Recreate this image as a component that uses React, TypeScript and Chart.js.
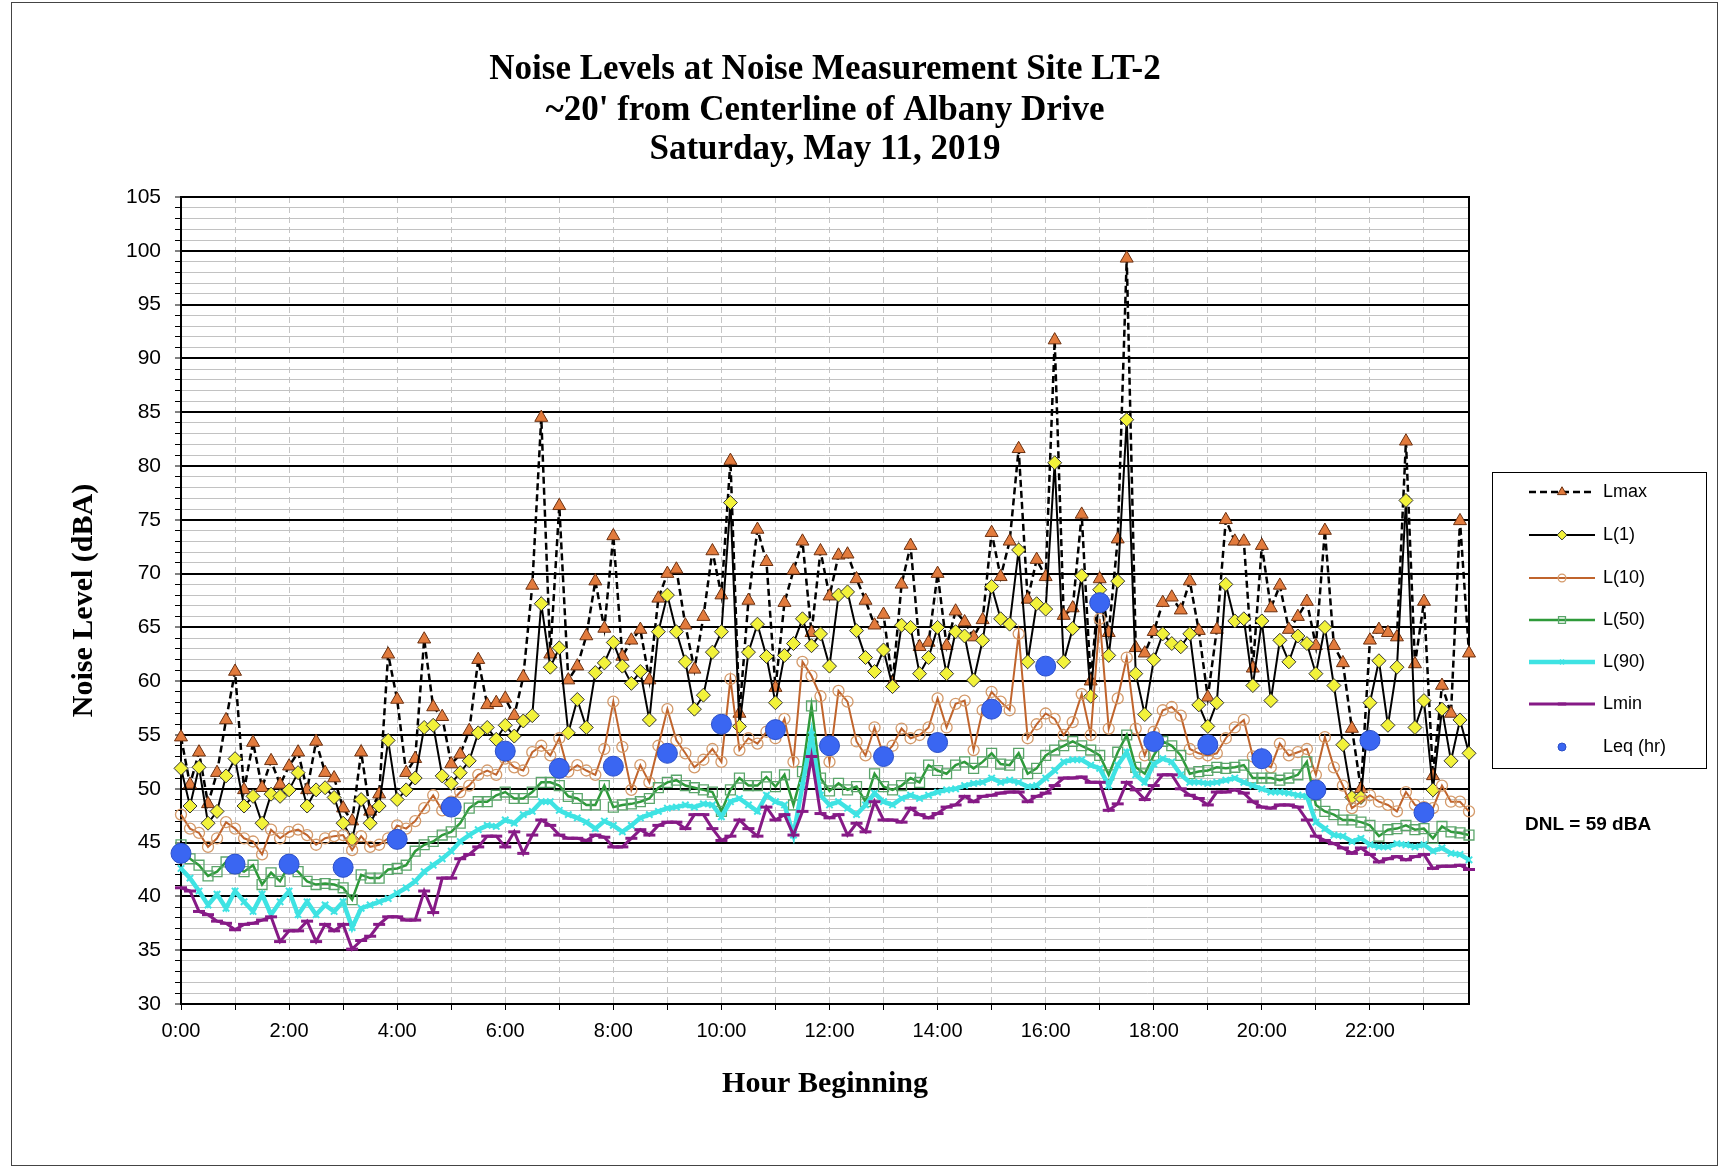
import React, { useEffect, useRef } from 'react';
import { Chart, registerables } from 'chart.js';
import { drawPoint } from 'chart.js/helpers';

Chart.register(...registerables);

const TITLE_LINES = [
  'Noise Levels at Noise Measurement Site LT-2',
  "~20' from Centerline of Albany Drive",
  'Saturday, May 11, 2019',
];
const X_TITLE = 'Hour Beginning';
const Y_TITLE = 'Noise Level (dBA)';
const DNL_TEXT = 'DNL = 59 dBA';

const HOUR_LABELS = ['0','1','2','3','4','5','6','7','8','9','10','11','12','13','14','15','16','17','18','19','20','21','22','23'];
const MINUTE_LABELS = ['00', '10', '20', '30', '40', '50'];
const TIME_LABELS: string[] = [];
HOUR_LABELS.forEach((h) => MINUTE_LABELS.forEach((m) => TIME_LABELS.push(h + ':' + m)));

const Y_MIN = 30;
const Y_MAX = 105;

const LMAX = [
  54.8, 50.4, 53.4, 48.6, 51.5, 56.4, 60.9, 49.9, 54.3, 50.1,
  52.6, 50.4, 52.1, 53.4, 49.9, 54.4, 51.5, 51.0, 48.2, 47.0,
  53.4, 47.9, 49.5, 62.5, 58.3, 51.5, 52.8, 63.9, 57.6, 56.7,
  52.3, 53.2, 55.4, 62.0, 57.8, 58.0, 58.4, 56.8, 60.4, 68.9,
  84.5, 62.5, 76.3, 60.1, 61.4, 64.2, 69.3, 64.9, 73.5, 62.3,
  63.8, 64.8, 60.1, 67.7, 70.0, 70.4, 65.2, 61.1, 66.0, 72.1,
  68.0, 80.5, 57.0, 67.5, 74.1, 71.1, 59.4, 67.3, 70.3, 73.0,
  64.5, 72.1, 67.9, 71.7, 71.8, 69.5, 67.5, 65.2, 66.2, 59.8,
  69.0, 72.6, 63.2, 63.6, 70.0, 63.3, 66.5, 65.5, 64.1, 65.7,
  73.8, 69.7, 73.0, 81.6, 67.6, 71.3, 69.7, 91.7, 66.1, 66.8,
  75.5, 60.0, 69.5, 64.5, 73.2, 99.3, 63.1, 62.6, 64.6, 67.3,
  67.8, 66.6, 69.3, 64.7, 58.5, 64.8, 75.0, 73.0, 73.0, 61.2,
  72.6, 66.8, 68.9, 64.8, 66.0, 67.4, 63.3, 74.0, 63.3, 61.7,
  55.6, 50.0, 63.8, 64.8, 64.5, 64.1, 82.3, 61.6, 67.4, 51.2,
  59.6, 57.0, 74.9, 62.6,
];

const L1 = [
  51.9, 48.4, 52.0, 46.8, 47.9, 51.2, 52.8, 48.4, 49.3, 46.8,
  49.5, 49.3, 49.9, 51.5, 48.4, 49.9, 50.1, 49.2, 46.8, 45.3,
  49.0, 46.8, 48.4, 54.5, 49.0, 49.9, 51.0, 55.7, 55.9, 51.2,
  50.5, 51.5, 52.6, 55.2, 55.7, 54.6, 55.9, 54.9, 56.3, 56.8,
  67.2, 61.3, 63.1, 55.2, 58.3, 55.7, 60.8, 61.7, 63.6, 61.4,
  59.8, 60.9, 56.4, 64.6, 68.0, 64.6, 61.8, 57.4, 58.7, 62.7,
  64.6, 76.6, 55.8, 62.7, 65.3, 62.3, 58.0, 62.4, 63.5, 65.8,
  63.3, 64.4, 61.4, 68.0, 68.3, 64.7, 62.2, 60.9, 62.9, 59.5,
  65.2, 65.0, 60.7, 62.2, 65.0, 60.7, 64.6, 64.2, 60.1, 63.8,
  68.8, 65.8, 65.3, 72.2, 61.8, 67.2, 66.7, 80.3, 61.8, 64.9,
  69.8, 58.6, 68.5, 62.4, 69.3, 84.3, 60.7, 56.9, 62.0, 64.4,
  63.5, 63.2, 64.4, 57.8, 55.8, 58.0, 69.0, 65.6, 65.8, 59.6,
  65.6, 58.2, 63.8, 61.8, 64.2, 63.5, 60.7, 65.0, 59.6, 54.1,
  49.2, 49.2, 58.0, 61.9, 55.9, 61.3, 76.8, 55.7, 58.2, 49.9,
  57.4, 52.6, 56.4, 53.3,
];

const L10 = [
  47.6, 46.3, 45.9, 44.6, 45.4, 46.9, 46.3, 45.4, 45.1, 43.9,
  46.2, 45.4, 46.0, 46.2, 45.7, 44.8, 45.4, 45.6, 45.7, 44.3,
  45.6, 44.6, 44.8, 45.4, 46.6, 46.3, 47.0, 48.2, 49.4, 48.0,
  48.8, 49.7, 50.3, 51.3, 51.7, 51.3, 52.8, 52.0, 51.7, 53.4,
  54.0, 53.1, 54.7, 51.6, 52.2, 51.7, 51.3, 53.7, 58.1, 53.9,
  49.9, 52.2, 50.6, 54.0, 57.4, 54.5, 53.3, 52.0, 52.7, 53.7,
  52.5, 60.2, 53.6, 54.7, 54.2, 55.3, 54.7, 56.5, 52.5, 61.8,
  60.5, 58.6, 52.5, 59.1, 58.1, 54.4, 53.1, 55.7, 53.1, 54.0,
  55.6, 54.7, 55.0, 55.7, 58.4, 55.7, 57.9, 58.2, 53.6, 57.3,
  59.0, 58.1, 57.3, 64.4, 54.7, 56.0, 57.0, 56.5, 55.0, 56.2,
  58.8, 55.0, 65.8, 55.6, 58.4, 62.2, 55.6, 53.1, 55.3, 57.3,
  57.6, 56.8, 53.7, 53.3, 53.1, 53.3, 54.7, 55.7, 56.4, 53.0,
  52.5, 52.0, 54.2, 53.1, 53.4, 53.7, 51.3, 54.8, 52.0, 50.3,
  48.2, 48.8, 49.4, 48.8, 48.5, 47.9, 49.7, 48.5, 48.3, 48.2,
  50.3, 48.8, 48.8, 47.9,
];

const L50 = [
  44.8, 43.5, 42.9, 41.9, 42.3, 43.2, 42.6, 42.3, 42.9, 41.1,
  42.2, 41.4, 42.9, 42.3, 41.4, 41.1, 41.2, 41.1, 40.8, 39.7,
  42.0, 41.7, 41.7, 42.5, 42.6, 42.9, 44.2, 44.8, 45.1, 45.7,
  46.0, 46.8, 48.2, 48.8, 48.8, 49.4, 49.7, 49.1, 49.1, 49.7,
  50.6, 50.6, 50.3, 49.3, 49.1, 48.5, 48.5, 50.3, 48.3, 48.5,
  48.6, 48.8, 49.1, 50.1, 50.6, 50.8, 50.3, 50.1, 49.9, 49.7,
  47.9, 49.9, 51.0, 50.3, 50.3, 51.1, 50.2, 51.3, 48.5, 51.6,
  57.7, 51.0, 49.8, 50.5, 49.9, 50.2, 48.8, 51.4, 50.2, 49.9,
  50.3, 51.0, 50.6, 52.2, 51.7, 51.4, 52.2, 52.5, 51.9, 52.5,
  53.3, 52.3, 52.2, 53.3, 51.4, 51.9, 53.1, 53.6, 54.0, 54.4,
  54.0, 53.6, 53.1, 51.3, 53.4, 55.0, 52.0, 51.4, 53.1, 54.4,
  54.0, 53.1, 51.4, 51.6, 51.7, 52.0, 51.9, 52.0, 52.2, 51.0,
  51.0, 51.0, 50.8, 51.0, 51.3, 52.5, 48.5, 47.9, 47.6, 47.1,
  47.1, 46.9, 46.6, 45.6, 46.2, 46.3, 46.6, 46.2, 46.3, 45.4,
  46.5, 46.0, 45.9, 45.7,
];

const L90 = [
  42.6, 41.7, 40.5, 39.2, 40.2, 38.9, 40.5, 39.5, 38.6, 40.2,
  38.3, 39.5, 40.5, 38.3, 39.5, 38.3, 39.2, 38.6, 39.5, 37.1,
  38.9, 39.2, 39.5, 39.8, 40.3, 40.8, 41.4, 42.3, 42.9, 43.5,
  44.2, 45.1, 45.7, 46.2, 46.6, 46.5, 47.1, 46.8, 47.6, 47.9,
  48.8, 48.8, 48.0, 47.6, 47.3, 46.9, 46.3, 47.0, 46.6, 46.0,
  46.6, 47.3, 47.6, 47.9, 48.2, 48.3, 48.5, 48.3, 48.6, 48.5,
  47.4, 48.8, 49.1, 48.5, 47.9, 49.4, 48.8, 48.5, 45.7, 50.3,
  55.0, 49.4, 48.5, 48.8, 48.2, 47.6, 48.5, 49.6, 48.8, 48.5,
  49.1, 49.4, 49.1, 49.4, 49.7, 49.9, 50.0, 50.3, 50.5, 50.6,
  51.0, 50.6, 50.8, 50.6, 50.2, 50.3, 51.0, 51.7, 52.5, 52.7,
  52.7, 52.2, 51.9, 50.3, 52.2, 53.4, 51.3, 50.6, 52.3, 52.8,
  52.5, 51.3, 50.6, 50.6, 50.5, 50.6, 50.8, 51.0, 50.6, 50.3,
  50.0, 49.7, 49.7, 49.6, 49.4, 49.3, 46.9, 46.3, 45.7, 45.6,
  45.1, 45.4, 44.8, 44.6, 44.6, 44.9, 44.8, 44.6, 44.8, 44.2,
  44.5, 44.0, 43.9, 43.4,
];

const LMIN = [
  40.8, 40.5, 38.6, 38.3, 37.7, 37.5, 36.9, 37.4, 37.5, 37.8,
  38.1, 35.8, 36.8, 36.8, 37.7, 35.8, 37.4, 36.8, 37.4, 35.1,
  35.9, 36.3, 37.4, 38.1, 38.1, 37.8, 37.8, 40.5, 38.5, 41.7,
  41.7, 43.5, 43.9, 44.6, 45.6, 45.6, 44.6, 46.0, 44.0, 45.7,
  47.1, 46.6, 45.7, 45.4, 45.4, 45.2, 45.7, 45.5, 44.6, 44.6,
  45.4, 46.2, 45.7, 46.6, 46.9, 46.9, 46.3, 47.6, 47.6, 46.3,
  45.2, 45.6, 47.1, 46.3, 45.6, 48.3, 47.1, 47.6, 45.7, 47.9,
  53.0, 47.7, 47.3, 47.6, 45.7, 46.8, 46.0, 48.8, 47.1, 47.1,
  46.9, 48.2, 47.6, 47.3, 47.7, 48.3, 48.5, 49.3, 48.8, 49.3,
  49.4, 49.6, 49.7, 49.7, 48.8, 49.3, 49.6, 50.3, 51.0, 51.0,
  51.1, 50.6, 50.6, 48.0, 48.6, 50.6, 49.9, 49.0, 50.3, 51.3,
  51.3, 50.0, 49.4, 49.1, 48.5, 49.7, 49.7, 49.9, 49.6, 48.8,
  48.3, 48.2, 48.5, 48.5, 48.3, 47.1, 45.6, 45.2, 44.9, 44.5,
  44.0, 44.5, 43.9, 43.2, 43.5, 43.7, 43.4, 43.7, 43.9, 42.6,
  42.8, 42.8, 42.9, 42.5,
];

// Hourly Leq, one value per hour beginning 0:00 .. 23:00
const LEQ_HOURLY = [
  44.0, 43.0, 43.0, 42.7, 45.3, 48.3, 53.5, 51.9, 52.1, 53.3, 56.0, 55.5,
  54.0, 53.0, 54.3, 57.4, 61.4, 67.3, 54.4, 54.1, 52.8, 49.9, 54.5, 47.8,
];

const LEGEND_LABELS = ['Lmax', 'L(1)', 'L(10)', 'L(50)', 'L(90)', 'Lmin', 'Leq (hr)'];

const SERIF = '"Liberation Serif", "Times New Roman", serif';
const SANS = '"Liberation Sans", Arial, sans-serif';

export default function App() {
  const canvasRef = useRef<HTMLCanvasElement | null>(null);

  useEffect(() => {
    const canvas = canvasRef.current;
    if (!canvas) return;

    const leqData = TIME_LABELS.map((_, i) => (i % 6 === 0 ? LEQ_HOURLY[i / 6] : null));

    const framePlugin = {
      id: 'frameAndTexts',
      beforeDatasetsDraw(chart: any) {
        const { ctx, chartArea: a } = chart;
        ctx.save();
        ctx.strokeStyle = '#000';
        ctx.lineWidth = 2;
        ctx.strokeRect(a.left, a.top, a.right - a.left, a.bottom - a.top);
        ctx.restore();
      },
      afterDraw(chart: any) {
        const { ctx, chartArea: a } = chart;
        ctx.save();
        // page frame
        ctx.strokeStyle = '#444';
        ctx.lineWidth = 1;
        ctx.strokeRect(11.5, 2.5, 1706, 1163);

        // title
        ctx.fillStyle = '#000';
        ctx.font = 'bold 35px ' + SERIF;
        ctx.textAlign = 'center';
        ctx.textBaseline = 'middle';
        const cx = (a.left + a.right) / 2;
        const ys = [70, 111, 150];
        TITLE_LINES.forEach((t, i) => ctx.fillText(t, cx, ys[i]));

        // legend box
        const bx = 1492, by = 472, bw = 214, bh = 296;
        ctx.fillStyle = '#fff';
        ctx.fillRect(bx, by, bw, bh);
        ctx.strokeStyle = '#000';
        ctx.lineWidth = 1;
        ctx.strokeRect(bx + 0.5, by + 0.5, bw, bh);

        const ds = chart.data.datasets;
        const rowY = [492, 535, 578, 620, 662, 704, 747];
        LEGEND_LABELS.forEach((lab, i) => {
          const d = ds.find((x: any) => x.label === lab);
          if (!d) return;
          const y = rowY[i];
          const x1 = 1529, x2 = 1595, xm = (x1 + x2) / 2;
          if (d.showLine !== false) {
            ctx.save();
            ctx.strokeStyle = d.borderColor;
            ctx.lineWidth = d.borderWidth;
            ctx.setLineDash(d.borderDash || []);
            ctx.beginPath();
            ctx.moveTo(x1, y);
            ctx.lineTo(x2, y);
            ctx.stroke();
            ctx.restore();
          }
          ctx.save();
          ctx.fillStyle = d.pointBackgroundColor;
          ctx.strokeStyle = d.pointBorderColor;
          ctx.lineWidth = d.pointBorderWidth;
          drawPoint(ctx, {
            pointStyle: d.pointStyle,
            rotation: 0,
            radius: d.label === 'Leq (hr)' ? 4 : d.pointRadius * 0.7,
            borderWidth: d.pointBorderWidth,
          } as any, xm, y);
          ctx.restore();
          ctx.fillStyle = '#000';
          ctx.font = '18px ' + SANS;
          ctx.textAlign = 'left';
          ctx.textBaseline = 'middle';
          ctx.fillText(lab, 1603, y);
        });

        ctx.font = 'bold 19px ' + SANS;
        ctx.textAlign = 'left';
        ctx.fillText(DNL_TEXT, 1525, 825);
        ctx.restore();
      },
    };

    const chart = new Chart(canvas, {
      type: 'line',
      data: {
        labels: TIME_LABELS,
        datasets: [
          {
            label: 'Leq (hr)',
            data: leqData,
            showLine: false,
            pointStyle: 'circle',
            pointRadius: 10,
            pointBackgroundColor: '#3A66F2',
            pointBorderColor: '#2B4FC8',
            pointBorderWidth: 1,
            borderColor: '#3A66F2',
            borderWidth: 0,
            order: 1,
          },
          {
            label: 'Lmin',
            data: LMIN,
            borderColor: '#861A86',
            borderWidth: 3,
            pointStyle: 'line',
            pointRadius: 6,
            pointBackgroundColor: '#861A86',
            pointBorderColor: '#861A86',
            pointBorderWidth: 3,
            order: 2,
          },
          {
            label: 'L(90)',
            data: L90,
            borderColor: '#3FE3E3',
            borderWidth: 4.5,
            pointStyle: 'crossRot',
            pointRadius: 4.5,
            pointBackgroundColor: '#3FE3E3',
            pointBorderColor: '#3FE3E3',
            pointBorderWidth: 2,
            order: 3,
          },
          {
            label: 'L(50)',
            data: L50,
            borderColor: '#2E9A3A',
            borderWidth: 2.5,
            pointStyle: 'rect',
            pointRadius: 7,
            pointBackgroundColor: 'rgba(255,255,255,0)',
            pointBorderColor: '#5AA56A',
            pointBorderWidth: 1.3,
            order: 4,
          },
          {
            label: 'L(10)',
            data: L10,
            borderColor: '#C0642C',
            borderWidth: 2,
            pointStyle: 'circle',
            pointRadius: 5.5,
            pointBackgroundColor: 'rgba(255,255,255,0)',
            pointBorderColor: '#D49A6A',
            pointBorderWidth: 1.3,
            order: 5,
          },
          {
            label: 'L(1)',
            data: L1,
            borderColor: '#000',
            borderWidth: 2,
            pointStyle: 'rectRot',
            pointRadius: 7,
            pointBackgroundColor: '#F2F23A',
            pointBorderColor: '#333',
            pointBorderWidth: 1,
            order: 6,
          },
          {
            label: 'Lmax',
            data: LMAX,
            borderColor: '#000',
            borderWidth: 2.5,
            borderDash: [7, 4],
            pointStyle: 'triangle',
            pointRadius: 7.5,
            pointBackgroundColor: '#E27B3D',
            pointBorderColor: '#6B3010',
            pointBorderWidth: 1,
            order: 7,
          },
        ] as any,
      },
      options: {
        responsive: false,
        devicePixelRatio: 1,
        animation: false,
        events: [],
        layout: { padding: { left: 0, top: 197, right: 251, bottom: 0 } },
        elements: { line: { tension: 0 } },
        datasets: { line: { clip: false as any, spanGaps: false } },
        plugins: {
          legend: { display: false },
          title: { display: false },
          tooltip: { enabled: false },
        },
        scales: {
          x: {
            type: 'category',
            offset: false,
            ticks: {
              autoSkip: false,
              maxRotation: 0,
              minRotation: 0,
              color: '#000',
              padding: 9,
              font: { family: SANS, size: 20 },
              callback: (_v: any, i: number) => (i % 12 === 0 ? TIME_LABELS[i] : ''),
            },
            grid: {
              offset: false,
              color: (c: any) => (c.index % 6 === 0 ? '#C6C6C6' : 'rgba(0,0,0,0)'),
              lineWidth: 1,
              tickLength: 6,
              tickColor: (c: any) => (c.index % 6 === 0 ? '#000' : 'rgba(0,0,0,0)'),
            },
            border: { color: '#000', width: 2, dash: [6, 4] },
            title: {
              display: true,
              text: X_TITLE,
              color: '#000',
              font: { family: SERIF, size: 30, weight: 'bold' },
              padding: { top: 0, bottom: 64 },
            },
            afterFit: (s: any) => {
              s.height = 162;
            },
          } as any,
          y: {
            min: Y_MIN,
            max: Y_MAX,
            ticks: {
              stepSize: 1,
              autoSkip: false,
              color: '#000',
              padding: 14,
              font: { family: SANS, size: 21 },
              callback: (v: any) => (Number(v) % 5 === 0 ? String(v) : ''),
            },
            grid: {
              color: (c: any) => (c.tick && c.tick.value % 5 === 0 ? '#000' : '#C2C2C2'),
              lineWidth: (c: any) => (c.tick && c.tick.value % 5 === 0 ? 2 : 1),
              tickLength: 6,
              tickColor: '#000',
              tickWidth: 1,
            },
            border: { color: '#000', width: 2 },
            title: {
              display: true,
              text: Y_TITLE,
              color: '#000',
              font: { family: SERIF, size: 30, weight: 'bold' },
              padding: { top: 66, bottom: 0 },
            },
            afterFit: (s: any) => {
              s.width = 181;
            },
          } as any,
        },
      },
      plugins: [framePlugin],
    });

    return () => {
      chart.destroy();
    };
  }, []);

  return (
    <div style={{ position: 'absolute', left: 0, top: 0, width: 1720, height: 1166, background: '#fff' }}>
      <canvas ref={canvasRef} width={1720} height={1166} style={{ display: 'block', width: 1720, height: 1166 }} />
    </div>
  );
}
